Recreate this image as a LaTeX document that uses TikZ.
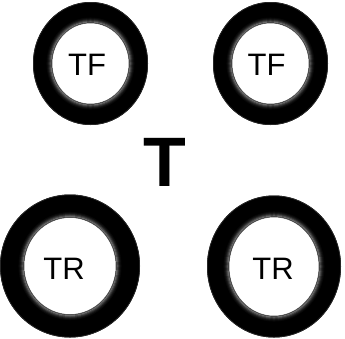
\documentclass[tikz,border=0pt]{standalone}
\usepackage{fontspec}
\setmainfont{Liberation Sans}
\newcommand\tirering[6]{%
  \fill[black] (#1,#2) ellipse [x radius=#3pt, y radius=#4pt];
  \draw[black!85!white, line width=0.8pt] (#1,#2) ellipse [x radius=#3pt-0.4pt, y radius=#4pt-0.4pt];
  \fill[black] (#1,#2) ellipse [x radius=#3pt-1.2pt, y radius=#4pt-1.2pt];
  \foreach \k/\c in {5/3,4/8,3/16,2/28,1/42}{%
    \draw[white!\c!black, line width=1.1pt] (#1,#2) ellipse [x radius=#5pt+\k pt, y radius=#6pt+\k pt];
  }%
  \fill[white] (#1,#2) ellipse [x radius=#5pt, y radius=#6pt];
  \draw[black!70!white, line width=0.5pt] (#1,#2) ellipse [x radius=#5pt, y radius=#6pt];
}
\begin{document}
\begin{tikzpicture}[x=1pt,y=-1pt,
  lbl/.style={inner sep=0pt, font=\fontsize{31}{31}\selectfont},
  bigT/.style={inner sep=0pt, font=\fontsize{70}{70}\selectfont\bfseries}]
\useasboundingbox (0,0) rectangle (345,338);
\tirering{90.5}{63.5}{57.5}{61.5}{38.5}{40.5}
\tirering{270.5}{63.5}{57.5}{61.5}{38.5}{40.5}
\tirering{70}{266}{70}{71.5}{46}{48.5}
\tirering{274}{266.5}{67}{71}{45}{49.5}
\node[lbl] (tfl) at (87,65) {TF};
\node[lbl] (tfr) at (266.5,65) {TF};
\node[lbl] (trl) at (64,268.5) {TR};
\node[lbl] (trr) at (273,268.5) {TR};
\node[bigT] (t) at (165,162) {T};
\end{tikzpicture}
\end{document}
